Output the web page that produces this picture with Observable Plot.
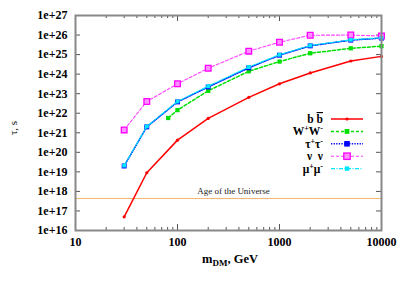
<!DOCTYPE html>
<html>
<head>
<meta charset="utf-8">
<script src="https://cdn.jsdelivr.net/npm/d3@7"></script>
<script src="https://cdn.jsdelivr.net/npm/@observablehq/plot@0.6"></script>
<style>
  html, body { margin: 0; padding: 0; background: white; }
</style>
</head>
<body>
<div id="chart"></div>
<script>
// ---- data ----
const masses = [30, 50, 100, 200, 500, 1000, 2000, 5000, 10000];
const wwMasses = [81, 100, 200, 500, 1000, 2000, 5000, 10000];
const bbTau = [5e16, 9e18, 4.2e20, 5.4e21, 6.5e22, 3.2e23, 1.15e24, 4.7e24, 8.1e24];
const wwTau = [5.7e21, 1.45e22, 1.4e23, 1.4e24, 4.4e24, 1.17e25, 2.1e25, 2.7e25];
const tautauTau = [2e19, 2e21, 3.8e22, 2.2e23, 2.1e24, 9.3e24, 2.8e25, 5.5e25, 7e25];
const nunuTau = [1.4e21, 4e22, 3.2e23, 2e24, 1.5e25, 4.3e25, 9.8e25, 1e26, 9e25];
const mumuTau = [2.1e19, 2.1e21, 4e22, 2.4e23, 2.3e24, 9.8e24, 2.9e25, 5.7e25, 7.2e25];
const ageUniverse = [4.35e17];
const ageLabel = ["Age of the Universe"];
const xTicks = [10, 100, 1000, 10000];
const xMinor = [20,30,40,50,60,70,80,90,200,300,400,500,600,700,800,900,2000,3000,4000,5000,6000,7000,8000,9000];
const yTicks = d3.range(16, 28).map(e => Math.pow(10, e));

const rows = (xs, ys) => xs.map((m, i) => ({m, t: ys[i]}));
const bb = rows(masses, bbTau);
const ww = rows(wwMasses, wwTau);
const tt = rows(masses, tautauTau);
const nn = rows(masses, nunuTau);
const mm = rows(masses, mumuTau);

const W = 403, H = 283, ML = 75, MR = 22, MT = 15, MB = 53;
const FW = W - ML - MR, FH = H - MT - MB;

const serif = "'Liberation Serif', 'Times New Roman', serif";

const chart = Plot.plot({
  width: W, height: H,
  marginLeft: ML, marginRight: MR, marginTop: MT, marginBottom: MB,
  style: {fontFamily: serif, fontSize: "12px", background: "white", color: "black"},
  x: {type: "log", domain: [10, 10000]},
  y: {type: "log", domain: [1e16, 1e27]},
  marks: [
    Plot.axisX({ticks: xTicks, tickFormat: d => String(d), tickSize: 0, tickPadding: 7, fontWeight: "bold", fontSize: 12, label: null}),
    Plot.axisY({ticks: yTicks, tickFormat: d => "1e+" + Math.round(Math.log10(d)), tickSize: 0, tickPadding: 8, fontWeight: "bold", fontSize: 12, label: null}),
    // inward ticks
    Plot.tickY(yTicks, {y: d => d, insetRight: FW - 5, stroke: "#555"}),
    Plot.tickY(yTicks, {y: d => d, insetLeft: FW - 5, stroke: "#555"}),
    Plot.tickX(xTicks, {x: d => d, insetBottom: FH - 6, stroke: "#555"}),
    Plot.tickX(xTicks, {x: d => d, insetTop: FH - 6, stroke: "#555"}),
    Plot.tickX(xMinor, {x: d => d, insetBottom: FH - 3, stroke: "#555"}),
    Plot.tickX(xMinor, {x: d => d, insetTop: FH - 3, stroke: "#555"}),
    // age of universe
    Plot.ruleY(ageUniverse, {y: d => d, stroke: "#f2b56e", strokeWidth: 1}),
    Plot.text(ageLabel, {text: d => d, x: () => 354, y: () => ageUniverse[0], dy: -7, fontSize: 9, fill: "#222"}),
    // series
    Plot.line(bb, {x: "m", y: "t", stroke: "#ff0000", strokeWidth: 1.5}),
    Plot.dot(bb, {x: "m", y: "t", fill: "#ff0000", r: 1.6}),
    Plot.line(ww, {x: "m", y: "t", stroke: "#00e000", strokeWidth: 1.5, strokeDasharray: "3,2"}),
    Plot.dot(ww, {x: "m", y: "t", fill: "#00e000", symbol: "square", r: 2.4}),
    Plot.line(tt, {x: "m", y: "t", stroke: "#0000ff", strokeWidth: 1.5, strokeDasharray: "1.3,1.3"}),
    Plot.dot(tt, {x: "m", y: "t", fill: "#0000ff", symbol: "square", r: 2.8}),
    Plot.line(nn, {x: "m", y: "t", stroke: "#ff40ff", strokeWidth: 1.1, strokeDasharray: "3,2"}),
    Plot.dot(nn, {x: "m", y: "t", fill: "#ff90ff", stroke: "#ff00ff", strokeWidth: 1.3, symbol: "square", r: 3.2}),
    Plot.line(mm, {x: "m", y: "t", stroke: "#00e8ff", strokeWidth: 1.2, strokeDasharray: "4,1.5,1,1.5"}),
    Plot.dot(mm, {x: "m", y: "t", fill: "#00e8ff", symbol: "square", r: 2.2}),
    Plot.frame({stroke: "#888", strokeWidth: 2})
  ]
});

const svg = d3.select(chart);

// axis titles
const xl = svg.append("text")
  .attr("x", ML + FW / 2 + 2).attr("y", 263)
  .attr("text-anchor", "middle")
  .attr("font-family", serif).attr("font-weight", "bold").attr("font-size", 12.5);
xl.append("tspan").text("m");
xl.append("tspan").attr("font-size", 9).attr("dy", 3).text("DM");
xl.append("tspan").attr("dy", -3).text(", GeV");

svg.append("text")
  .attr("transform", `translate(17,${MT + 113}) rotate(-90)`)
  .attr("text-anchor", "middle")
  .attr("font-family", serif).attr("font-size", 11)
  .text("\u03c4, s");

// legend
const legend = [
  {parts: [["b"], [" "], ["b", "over"]], color: "#ff0000", dash: null, sw: 1.5, sym: "dot"},
  {parts: [["W"], ["+", "sup"], ["W"], ["-", "sup"]], color: "#00e000", dash: "3,2", sw: 1.5, sym: "sq", r: 2.4},
  {parts: [["\u03c4"], ["+", "sup"], ["\u03c4"], ["-", "sup"]], color: "#0000ff", dash: "1.3,1.3", sw: 1.5, sym: "sq", r: 2.8},
  {parts: [["\u03bd"], ["  "], ["\u03bd"]], color: "#ff40ff", dash: "3,2", sw: 1.1, sym: "sqm", r: 3.2},
  {parts: [["\u03bc"], ["+", "sup"], ["\u03bc"], ["-", "sup"]], color: "#00e8ff", dash: "4,1.5,1,1.5", sw: 1.2, sym: "sq", r: 2.2}
];
const lg = svg.append("g");
legend.forEach((e, i) => {
  const cy = 119 + i * 12.4;
  const t = lg.append("text").attr("x", 323).attr("y", cy + 4)
    .attr("text-anchor", "end").attr("font-family", serif)
    .attr("font-weight", "bold").attr("font-size", 11.5)
    .attr("xml:space", "preserve").style("white-space", "pre");
  let shifted = false;
  e.parts.forEach(([s, kind]) => {
    const ts = t.append("tspan").text(s);
    if (kind === "sup") {
      ts.attr("font-size", 8).attr("dy", shifted ? 0 : -4);
      shifted = true;
    } else {
      if (shifted) { ts.attr("dy", 4); shifted = false; }
      if (kind === "over") ts.style("text-decoration", "overline");
    }
  });
  lg.append("line").attr("x1", 331).attr("x2", 363).attr("y1", cy).attr("y2", cy)
    .attr("stroke", e.color).attr("stroke-width", e.sw)
    .attr("stroke-dasharray", e.dash);
  if (e.sym === "dot") {
    lg.append("circle").attr("cx", 347).attr("cy", cy).attr("r", 1.6).attr("fill", e.color);
  } else {
    const r = e.r;
    lg.append("rect").attr("x", 347 - r).attr("y", cy - r).attr("width", 2 * r).attr("height", 2 * r)
      .attr("fill", e.sym === "sqm" ? "#ff90ff" : e.color)
      .attr("stroke", e.sym === "sqm" ? "#ff00ff" : "none").attr("stroke-width", 1.3);
  }
});

document.getElementById("chart").appendChild(chart);
</script>
</body>
</html>
